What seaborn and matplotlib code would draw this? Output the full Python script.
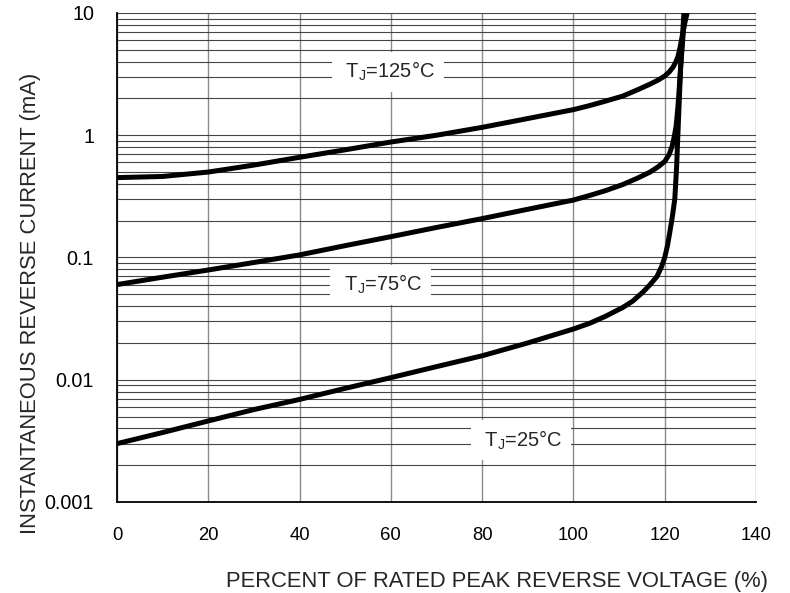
import numpy as np
import pandas as pd
import matplotlib
matplotlib.use("Agg")
import matplotlib.pyplot as plt
import seaborn as sns

# values
x_125 = [0, 10, 20, 30, 40, 50, 60, 70, 80, 90, 100, 103.6, 107, 110.8, 114, 116.8,
         118.5, 120, 121, 121.8, 122.4, 122.9, 123.3, 123.7, 124.3, 124.9]
y_125 = [0.45, 0.46, 0.50, 0.57, 0.66, 0.76, 0.88, 1.0, 1.16, 1.37, 1.62, 1.75, 1.90,
         2.09, 2.35, 2.62, 2.82, 3.05, 3.3, 3.6, 3.95, 4.4, 5.1, 6.1, 8.0, 10]

x_75 = [0, 10, 20, 30, 40, 50, 60, 70, 80, 90, 100, 103.6, 107, 110.8, 114, 116.8,
        118.5, 120, 121, 121.6, 122.1, 122.5, 122.9, 123.2, 123.5, 124.0, 124.4]
y_75 = [0.060, 0.069, 0.079, 0.091, 0.105, 0.125, 0.148, 0.176, 0.208, 0.248, 0.295,
        0.322, 0.352, 0.395, 0.445, 0.50, 0.55, 0.61, 0.70, 0.81, 0.98, 1.19, 1.73, 2.5,
        3.7, 6.5, 10]

x_25 = [0, 10, 20, 30, 40, 50, 60, 70, 80, 90, 100, 103.6, 107, 110.8, 113, 115.2,
        116.8, 118.3, 119.3, 120, 120.6, 121.1, 121.7, 122.2, 122.6, 122.9, 123.2,
        123.5, 123.9, 124.2]
y_25 = [0.0030, 0.0037, 0.0046, 0.0057, 0.0069, 0.0085, 0.0104, 0.0128, 0.0157,
        0.020, 0.026, 0.029, 0.033, 0.039, 0.044, 0.052, 0.060, 0.070, 0.084, 0.10,
        0.125, 0.16, 0.22, 0.30, 0.55, 1.06, 2.0, 3.7, 6.5, 10]

labels = ["T$_\\mathregular{J}$=125°C", "T$_\\mathregular{J}$=75°C", "T$_\\mathregular{J}$=25°C"]
label_x = [59.4, 57.8, 88.5]
label_y = [2.93, 0.053, 0.00284]

x_ticks = [0, 20, 40, 60, 80, 100, 120, 140]
y_ticks = [0.001, 0.01, 0.1, 1, 10]
y_ticklabels = ["0.001", "0.01", "0.1", "1", "10"]

df = pd.concat([
    pd.DataFrame({"pct": x_125, "ir": y_125, "tj": "125"}),
    pd.DataFrame({"pct": x_75, "ir": y_75, "tj": "75"}),
    pd.DataFrame({"pct": x_25, "ir": y_25, "tj": "25"}),
])

sns.set_style("white")
plt.rcParams['font.family'] = ['Liberation Sans', 'DejaVu Sans']
plt.rcParams['mathtext.fontset'] = 'custom'
plt.rcParams['mathtext.rm'] = 'Liberation Sans'

fig = plt.figure(figsize=(7.9, 5.93), dpi=100)
ax = fig.add_axes([0.1481, 0.1535, 0.8089, 0.8246])

ax.set_yscale("log")
ax.set_xlim(0, 140)
ax.set_ylim(0.001, 10)

# grid
ax.set_xticks(x_ticks)
ax.set_yticks(y_ticks)
ax.set_yticklabels(y_ticklabels)
ax.yaxis.set_minor_locator(matplotlib.ticker.LogLocator(base=10, subs=np.arange(2, 10)))
ax.yaxis.set_minor_formatter(matplotlib.ticker.NullFormatter())
ax.grid(True, axis="x", which="major", color="#8a8a8a", lw=1.0)
ax.grid(True, axis="y", which="both", color="#444444", lw=0.8)
ax.set_axisbelow(True)

sns.lineplot(data=df, x="pct", y="ir", hue="tj", units="tj", estimator=None, sort=False,
             palette={"125": "black", "75": "black", "25": "black"}, lw=3.6,
             legend=False, ax=ax, zorder=3)

for s, xx, yy in zip(labels, label_x, label_y):
    ax.text(xx, yy, " " + s + " ", ha="center", va="baseline", fontsize=14.5, zorder=4,
            bbox=dict(fc="white", ec="none", pad=6))

for side in ["top", "right"]:
    ax.spines[side].set_visible(False)
for side in ["left", "bottom"]:
    ax.spines[side].set_color("black")
    ax.spines[side].set_linewidth(1.3)

ax.tick_params(axis="both", which="both", length=0, colors="black")
ax.tick_params(axis="x", pad=18, labelsize=13.3)
ax.tick_params(axis="y", pad=16.5, labelsize=14.2)

ax.set_xlabel("PERCENT OF RATED PEAK REVERSE VOLTAGE (%)", fontsize=15.8)
ax.xaxis.set_label_coords(0.595, -0.141)
ax.set_ylabel("INSTANTANEOUS REVERSE CURRENT (mA)", fontsize=15.8)
ax.yaxis.set_label_coords(-0.119, 0.407)

fig.savefig("out.png", dpi=100)
